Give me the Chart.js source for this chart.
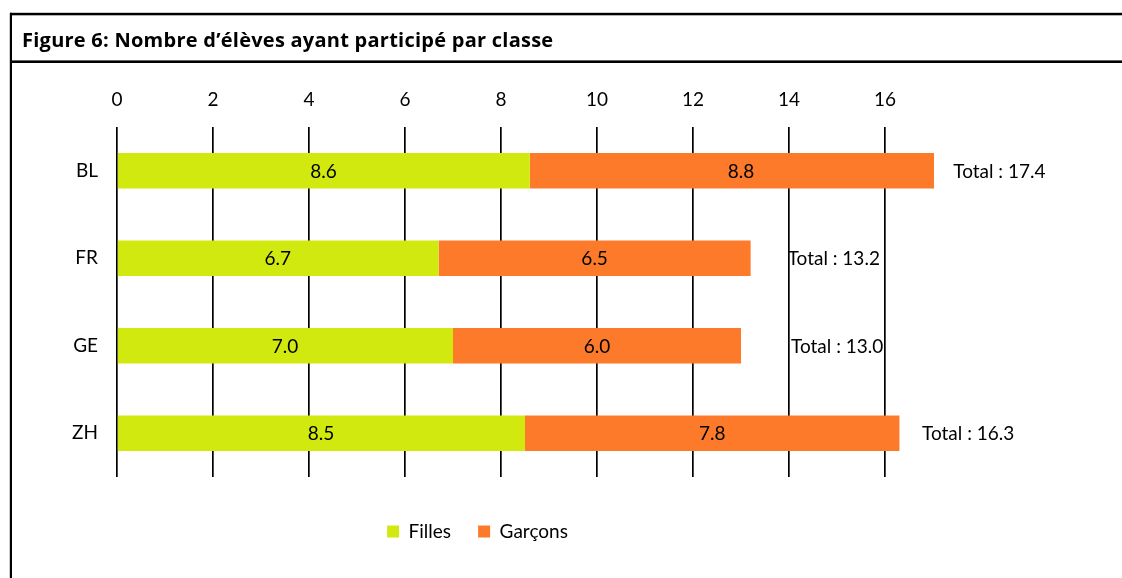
<!DOCTYPE html>
<html><head><meta charset="utf-8">
<script src="https://cdn.jsdelivr.net/npm/chart.js@4.4.0/dist/chart.umd.min.js"></script>
<style>html,body{margin:0;padding:0;background:#fff;overflow:hidden}
canvas{display:block}
</style></head><body>
<canvas id="c" width="1122" height="578"></canvas>
<script>
const categories = ['BL', 'FR', 'GE', 'ZH'];
const filles = [8.6, 6.7, 7.0, 8.5];
const garcons = [8.8, 6.5, 6.0, 7.8];
const totals = [17.4, 13.2, 13.0, 16.3];
const seriesNames = ['Filles', 'Garçons'];
const xTicks = [0, 2, 4, 6, 8, 10, 12, 14, 16];
const titleText = 'Figure 6: Nombre d\u2019élèves ayant participé par classe';

const FAM = 'Lato';
const FS = 19;
const COLORS = ['#D2E90F', '#FC7A2A'];
const totalOffsets = [1, 37, 50, 22.6];

const framePlugin = {
  id: 'frame',
  beforeDraw(chart) {
    const ctx = chart.ctx;
    ctx.save();
    ctx.fillStyle = '#fff';
    ctx.fillRect(0, 0, chart.width, chart.height);
    ctx.fillStyle = '#000';
    ctx.fillRect(10, 12.8, 1112, 2.5);
    ctx.fillRect(10, 60.4, 1112, 2.6);
    ctx.fillRect(9.8, 12.8, 2.2, 566);
    ctx.font = 'bold 20px "Open Sans"';
    if ('letterSpacing' in ctx) ctx.letterSpacing = '0.25px';
    ctx.textBaseline = 'alphabetic';
    ctx.textAlign = 'left';
    ctx.fillText(titleText, 22, 46.5);
    ctx.restore();
  }
};

const labelPlugin = {
  id: 'barLabels',
  afterDatasetsDraw(chart) {
    const ctx = chart.ctx;
    const xs = chart.scales.x;
    ctx.save();
    ctx.font = FS + 'px ' + FAM;
    ctx.fillStyle = '#000';
    ctx.textBaseline = 'middle';
    ctx.textAlign = 'center';
    chart.data.datasets.forEach((ds, di) => {
      const meta = chart.getDatasetMeta(di);
      meta.data.forEach((el, i) => {
        const start = di === 0 ? 0 : filles[i];
        const end = start + ds.data[i];
        const xm = (xs.getPixelForValue(start) + xs.getPixelForValue(end)) / 2;
        ctx.fillText(ds.data[i].toFixed(1), xm, el.y + 1);
      });
    });
    const meta1 = chart.getDatasetMeta(1);
    ctx.textAlign = 'left';
    meta1.data.forEach((el, i) => {
      const x = xs.getPixelForValue(totals[i]) + totalOffsets[i];
      ctx.fillText('Total : ' + totals[i].toFixed(1), x, el.y + 1);
    });
    ctx.restore();
  }
};

new Chart(document.getElementById('c'), {
  type: 'bar',
  data: {
    labels: categories,
    datasets: [
      { label: seriesNames[0], data: filles, backgroundColor: COLORS[0], borderWidth: 0 },
      { label: seriesNames[1], data: garcons, backgroundColor: COLORS[1], borderWidth: 0 }
    ]
  },
  options: {
    indexAxis: 'y',
    responsive: false,
    animation: false,
    devicePixelRatio: 1,
    categoryPercentage: 1,
    barPercentage: 0.407,
    layout: { padding: { left: 21, right: 188, top: 73, bottom: 27 } },
    scales: {
      x: {
        type: 'linear',
        position: 'top',
        stacked: true,
        min: 0,
        max: 17.02,
        afterBuildTicks: s => { s.ticks = xTicks.map(v => ({ value: v })); },
        grid: { color: '#000', lineWidth: 1.7, drawTicks: false },
        border: { display: false },
        ticks: { font: { family: FAM, size: FS }, color: '#000', padding: 15.6, includeBounds: false }
      },
      y: {
        stacked: true,
        grid: { display: false },
        border: { display: false },
        ticks: { font: { family: FAM, size: FS }, color: '#000', padding: 11 },
        afterFit: s => { s.width = 96; }
      }
    },
    plugins: {
      title: { display: false },
      tooltip: { enabled: false },
      legend: {
        position: 'bottom',
        title: { display: true, text: '', font: { size: 10 }, padding: { top: 0, bottom: 6 } },
        labels: { font: { family: FAM, size: FS }, color: '#000', boxWidth: 12, boxHeight: 12, padding: 27 }
      }
    }
  },
  plugins: [framePlugin, labelPlugin]
});
</script>
</body></html>
